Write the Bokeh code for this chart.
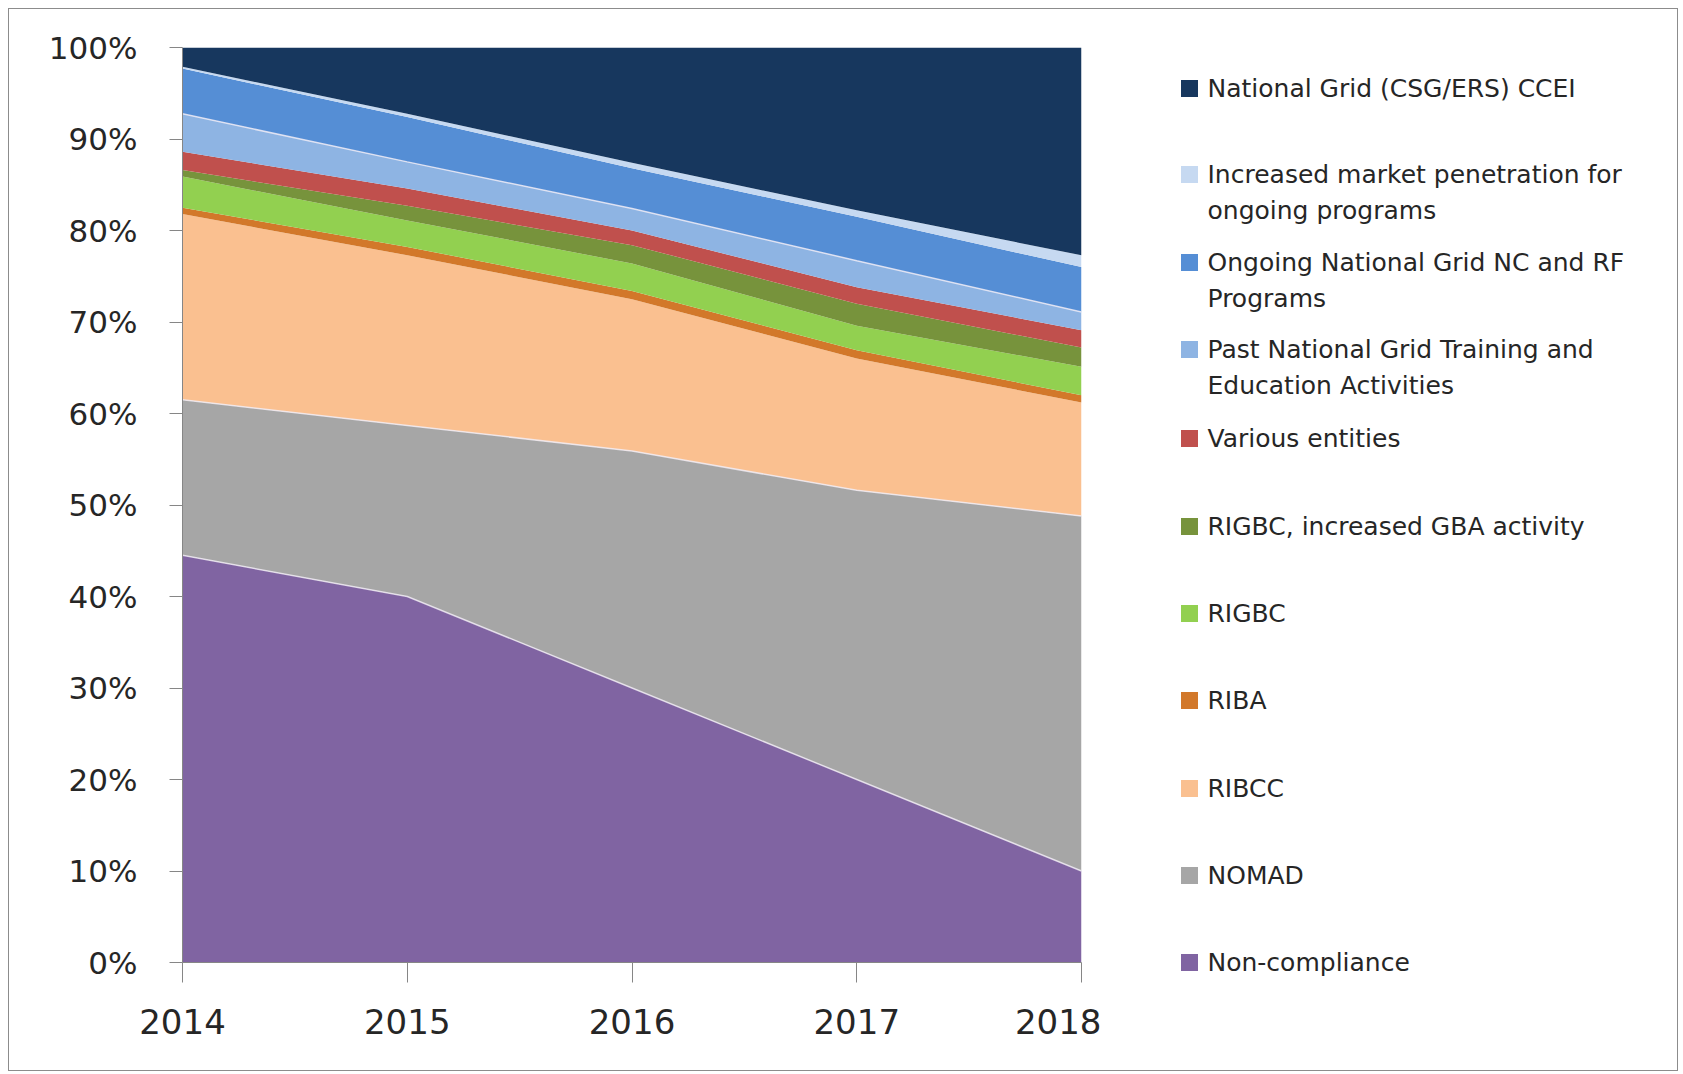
from bokeh.plotting import figure
from bokeh.layouts import row, column
from bokeh.models import Range1d, FixedTicker, PrintfTickFormatter, ColumnDataSource
from bokeh.core.properties import value
from bokeh.embed import file_html
from bokeh.resources import INLINE

# ---------------- data (percent of total, bottom to top) ----------------
years = [2014, 2015, 2016, 2017, 2018]
year_labels = ["2014", "2015", "2016", "2017", "2018"]
y_ticks = [0, 10, 20, 30, 40, 50, 60, 70, 80, 90, 100]

non_compliance = [44.5, 40.0, 30.0, 20.0, 10.0]
nomad = [17.0, 18.7, 25.9, 31.6, 38.8]
ribcc = [20.3, 18.6, 16.6, 14.4, 12.4]
riba = [0.7, 0.9, 0.9, 0.9, 0.8]
rigbc = [3.4, 2.9, 3.0, 2.7, 3.1]
rigbc_gba = [0.7, 1.6, 2.0, 2.4, 2.1]
various = [2.0, 1.9, 1.6, 1.8, 1.9]
past_training = [4.15, 2.9, 2.4, 2.9, 2.0]
ongoing_nc_rf = [4.95, 4.9, 4.4, 4.8, 4.9]
increased_penetration = [0.2, 0.35, 0.6, 0.7, 1.3]
ng_ccei = [2.1, 7.25, 12.6, 17.8, 22.7]

series_keys = ["non_compliance", "nomad", "ribcc", "riba", "rigbc", "rigbc_gba",
               "various", "past_training", "ongoing_nc_rf", "increased_penetration", "ng_ccei"]
series_values = [non_compliance, nomad, ribcc, riba, rigbc, rigbc_gba,
                 various, past_training, ongoing_nc_rf, increased_penetration, ng_ccei]
series_names = ["Non-compliance", "NOMAD", "RIBCC", "RIBA", "RIGBC",
                "RIGBC, increased GBA activity", "Various entities",
                "Past National Grid Training and\nEducation Activities",
                "Ongoing National Grid NC and RF\nPrograms",
                "Increased market penetration for\nongoing programs",
                "National Grid (CSG/ERS) CCEI"]
series_colors = ["#8064A2", "#A6A6A6", "#FAC090", "#D2782A", "#92D050", "#77933C",
                 "#C0504D", "#8EB4E3", "#558ED5", "#C6D9F1", "#17375E"]

# ---------------- main chart ----------------
MAIN_W, TOTAL_W, TOTAL_H = 1092, 1668, 1061
BORDER_TOP, BORDER_BOTTOM = 38, 108
p = figure(width=MAIN_W, height=TOTAL_H, output_backend="svg", toolbar_location=None,
           x_range=Range1d(2014, 2018), y_range=Range1d(0, 100),
           min_border_left=173, min_border_right=20, min_border_top=BORDER_TOP,
           min_border_bottom=BORDER_BOTTOM, background_fill_color="white",
           border_fill_color="white")
p.outline_line_color = None
p.xgrid.visible = False
p.ygrid.visible = False

data = {"year": years}
for k, v in zip(series_keys, series_values):
    data[k] = v
source = ColumnDataSource(data)
p.varea_stack(stackers=series_keys, x="year", color=series_colors, source=source)

# faint light edges seen between some bands
cum = [0.0] * len(years)
cums = []
for v in series_values:
    cum = [a + b for a, b in zip(cum, v)]
    cums.append(cum)
for idx in (0, 1, 7):
    p.line(years, cums[idx], line_color="#f2eef6", line_width=1.5, line_alpha=0.8)

p.xaxis.ticker = FixedTicker(ticks=years)
p.xaxis.major_label_overrides = {y: l for y, l in zip(years, year_labels)}
p.yaxis.ticker = FixedTicker(ticks=y_ticks)
p.yaxis.formatter = PrintfTickFormatter(format="%d%%")
for ax in (p.xaxis[0], p.yaxis[0]):
    ax.axis_line_color = "#868686"
    ax.major_tick_line_color = "#868686"
    ax.major_tick_in = 0
    ax.minor_tick_line_color = None
    ax.major_label_text_color = "#262626"
    ax.major_label_text_font = "DejaVu Sans"
p.yaxis.major_tick_out = 13
p.yaxis.major_label_text_font_size = "31px"
p.yaxis.major_label_standoff = 32
p.xaxis.major_tick_out = 20
p.xaxis.major_label_text_font_size = "34px"
p.xaxis.major_label_standoff = 26

# ---------------- legend panel (whole canvas mapped to page pixels) ----------------
LEG_W = TOTAL_W - MAIN_W
origin_x, origin_y = 9 + MAIN_W, 9          # page px of legend canvas corner
leg = figure(width=LEG_W, height=TOTAL_H, output_backend="svg", toolbar_location=None,
             x_range=Range1d(origin_x, origin_x + LEG_W),
             y_range=Range1d(origin_y + TOTAL_H, origin_y),
             min_border=0, background_fill_color="white", border_fill_color="white")
leg.axis.visible = False
leg.grid.visible = False
leg.outline_line_color = None

row_centres = [962, 875, 788, 700, 613, 526, 438, 349, 262, 174, 88]  # page y, first line
line_gap = 36
swatch_cx, text_x = 1189, 1207

sw_x, sw_y, sw_c = [], [], []
tx, ty, tt = [], [], []
for name, color, yc in zip(series_names, series_colors, row_centres):
    sw_x.append(swatch_cx)
    sw_y.append(yc)
    sw_c.append(color)
    for i, ln in enumerate(name.split("\n")):
        tx.append(text_x)
        ty.append(yc + i * line_gap)
        tt.append(ln)
leg.rect(x=sw_x, y=sw_y, width=17, height=17, fill_color=sw_c, line_color=None)
leg.text(x=tx, y=ty, text=tt, text_font=value("DejaVu Sans"),
         text_font_size=value("25px"), text_color="#262626",
         text_align="left", text_baseline="middle")

layout = row(p, column(leg), spacing=0)
layout.styles = {"border": "1px solid #8c8c8c", "margin-left": "8px", "margin-top": "8px"}

open("out.html", "w").write(file_html(layout, INLINE))
